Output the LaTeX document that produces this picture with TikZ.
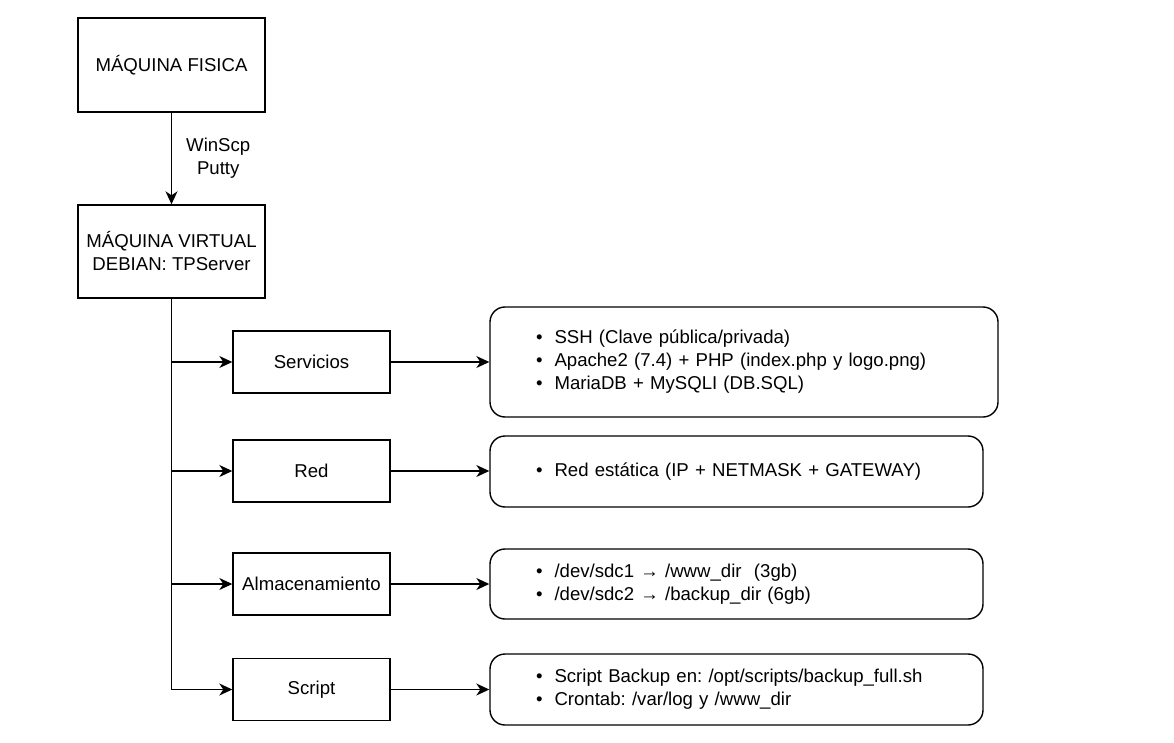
\documentclass[tikz,border=0pt]{standalone}
\usepackage{fontspec}
\setmainfont{Liberation Sans}
\usetikzlibrary{arrows.meta}
\frenchspacing
\begin{document}
\begin{tikzpicture}[x=1pt,y=-1pt,
  every node/.style={font=\fontsize{18.6}{23}\selectfont},
  sqbox/.style={draw, line width=1.4pt, inner sep=0pt, align=center},
  mainbox/.style={sqbox, minimum width=187pt},
  catbox/.style={sqbox, minimum width=157pt, minimum height=62pt},
  detail/.style={draw, line width=1.4pt, rounded corners=15pt, align=left, inner xsep=46pt, inner ysep=0pt},
  conn/.style={line width=1.4pt, -{Stealth[length=13pt,width=12pt,inset=4pt]}},
  plain/.style={line width=1.4pt}
]
\useasboundingbox (0,0) rectangle (1174,743);

\node[mainbox, minimum height=94pt] (phys) at (171.5,65) {MÁQUINA FISICA};
\node[mainbox, minimum height=93pt] (vm) at (171.5,251.5) {MÁQUINA VIRTUAL\\DEBIAN: TPServer};

\node[catbox] (serv) at (311.5,362) {Servicios};
\node[catbox] (red) at (311.5,471) {Red};
\node[catbox] (alm) at (311.5,584) {Almacenamiento};
\node[catbox] (scr) at (311.5,689.5) {Script};

\node[detail, text width=416pt, minimum height=110pt] (servd) at (744,362)
  {•\hspace{12pt}SSH (Clave pública/privada)\\
   •\hspace{12pt}Apache2 (7.4) + PHP (index.php y logo.png)\\
   •\hspace{12pt}MariaDB + MySQLI (DB.SQL)};
\node[detail, text width=401pt, minimum height=71pt] (redd) at (736.5,471.5)
  {•\hspace{12pt}Red estática (IP + NETMASK + GATEWAY)};
\node[detail, text width=401pt, minimum height=70pt] (almd) at (736.5,584)
  {•\hspace{12pt}/dev/sdc1 → /www\_dir\ \ (3gb)\\
   •\hspace{12pt}/dev/sdc2 → /backup\_dir (6gb)};
\node[detail, text width=401pt, minimum height=71pt] (scrd) at (736.5,689.5)
  {•\hspace{12pt}Script Backup en: /opt/scripts/backup\_full.sh\\
   •\hspace{12pt}Crontab: /var/log y /www\_dir};

\draw[conn] (phys) -- node[anchor=west, inner sep=0pt, xshift=14pt, align=center] {WinScp\\Putty} (vm);

\draw[conn] (vm.south) |- (scr.west);
\draw[conn] (vm.south |- serv.west) -- (serv.west);
\draw[conn] (vm.south |- red.west) -- (red.west);
\draw[conn] (vm.south |- alm.west) -- (alm.west);

\draw[conn] (serv.east) -- (serv.east -| servd.west);
\draw[conn] (red.east) -- (red.east -| redd.west);
\draw[conn] (alm.east) -- (alm.east -| almd.west);
\draw[conn] (scr.east) -- (scr.east -| scrd.west);
\end{tikzpicture}
\end{document}
